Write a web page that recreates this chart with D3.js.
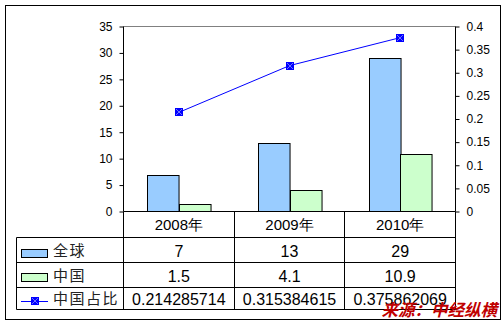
<!DOCTYPE html>
<html><head><meta charset="utf-8">
<script src="https://cdn.jsdelivr.net/npm/d3@7"></script>
<style>body{margin:0;background:#fff}svg{display:block}</style>
</head><body>
<svg id="c" width="504" height="323"></svg>
<script>
const categories = ["2008年", "2009年", "2010年"];
const globalValues = [7, 13, 29];
const chinaValues = [1.5, 4.1, 10.9];
const shareValues = [0.214285714, 0.315384615, 0.375862069];
const shareLabels = ["0.214285714", "0.315384615", "0.375862069"];
const seriesNames = ["全球", "中国", "中国占比"];
const leftTicks = [0, 5, 10, 15, 20, 25, 30, 35];
const rightTicks = [0, 0.05, 0.1, 0.15, 0.2, 0.25, 0.3, 0.35, 0.4];

const svg = d3.select("#c");
const L = 123.5, R = 455.5, T = 26.5, B = 211.5;
const num = "'Liberation Sans', Arial, sans-serif";
const cjk = "'Noto Sans CJK SC', sans-serif";

// outer border
svg.append("rect").attr("x", 5.5).attr("y", 5.5).attr("width", 495).attr("height", 314)
  .attr("fill", "#fff").attr("stroke", "#000");

const x = d3.scaleBand().domain(categories).range([L, R]).padding(0);
const yL = d3.scaleLinear().domain([0, 35]).range([B, T]);
const yR = d3.scaleLinear().domain([0, 0.4]).range([B, T]);
const bw = x.bandwidth() * 0.285;

// plot top border
svg.append("line").attr("x1", L).attr("x2", R).attr("y1", T).attr("y2", T).attr("stroke", "#808080");

// bars
svg.selectAll(".g").data(globalValues).enter().append("rect")
  .attr("x", (d, i) => Math.round(x(categories[i]) + x.bandwidth() / 2 - bw) + 0.5)
  .attr("y", d => Math.round(yL(d)) + 0.5)
  .attr("width", bw).attr("height", d => B - Math.round(yL(d)) - 0.5)
  .attr("fill", "#99CCFF").attr("stroke", "#000");
svg.selectAll(".c").data(chinaValues).enter().append("rect")
  .attr("x", (d, i) => Math.round(x(categories[i]) + x.bandwidth() / 2) + 0.5)
  .attr("y", d => Math.round(yL(d)) + 0.5)
  .attr("width", bw).attr("height", d => B - Math.round(yL(d)) - 0.5)
  .attr("fill", "#CCFFCC").attr("stroke", "#000");

// axes
const ax = svg.append("g").attr("transform", `translate(${L},0)`)
  .call(d3.axisLeft(yL).tickValues(leftTicks).tickSize(4).tickPadding(7).tickFormat(d3.format("d")));
ax.select(".domain").attr("d", `M0,${T}V${B}`);
const axR = svg.append("g").attr("transform", `translate(${R},0)`)
  .call(d3.axisRight(yR).tickValues(rightTicks).tickSize(4).tickPadding(7).tickFormat(d => d === 0 ? "0" : String(+d.toFixed(2))));
axR.select(".domain").attr("d", `M0,${T}V${B}`);
svg.selectAll(".tick text").attr("font-family", num).attr("font-size", 12).attr("fill", "#000");
svg.selectAll(".domain, .tick line").attr("stroke", "#000");

// x axis baseline
svg.append("line").attr("x1", L).attr("x2", R).attr("y1", B).attr("y2", B).attr("stroke", "#000");

// line series
const line = d3.line().x((d, i) => x(categories[i]) + x.bandwidth() / 2).y(d => yR(d));
svg.append("path").datum(shareValues).attr("d", line).attr("fill", "none").attr("stroke", "#0000FF").attr("stroke-width", 1);
const mk = svg.selectAll(".mk").data(shareValues).enter().append("g")
  .attr("transform", (d, i) => `translate(${Math.round(x(categories[i]) + x.bandwidth() / 2)},${Math.round(yR(d))})`);
function marker(g) {
  g.append("rect").attr("x", -4).attr("y", -4).attr("width", 8).attr("height", 8).attr("fill", "#0000FF");
  g.append("path").attr("d", "M-3,-3L3,3M3,-3L-3,3").attr("stroke", "#6F6FFF").attr("stroke-width", 1);
}
mk.each(function () { marker(d3.select(this)); });

// data table
const TL = 16.5;
const rows = [237.5, 262.5, 287.5, 309.5];
const colEdges = [L].concat(categories.map(c => x(c) + x.bandwidth()));
colEdges.forEach(cx => {
  svg.append("line").attr("x1", Math.round(cx - 0.5) + 0.5).attr("x2", Math.round(cx - 0.5) + 0.5)
    .attr("y1", B).attr("y2", rows[3]).attr("stroke", "#000");
});
rows.forEach(ry => svg.append("line").attr("x1", TL).attr("x2", R).attr("y1", ry).attr("y2", ry).attr("stroke", "#000"));
svg.append("line").attr("x1", TL).attr("x2", TL).attr("y1", rows[0]).attr("y2", rows[3]).attr("stroke", "#000");

categories.forEach((c, i) => {
  svg.append("text").attr("x", x(c) + x.bandwidth() / 2).attr("y", 230).attr("text-anchor", "middle")
    .attr("font-family", num).attr("font-size", 15).text(c);
});
const tableVals = [globalValues.map(String), chinaValues.map(String), shareLabels];
const baselines = [257, 282, 305];
tableVals.forEach((vals, r) => {
  vals.forEach((v, i) => {
    svg.append("text").attr("x", x(categories[i]) + x.bandwidth() / 2).attr("y", baselines[r])
      .attr("text-anchor", "middle").attr("font-family", num).attr("font-size", 16).text(v);
  });
  svg.append("text").attr("x", 53).attr("y", baselines[r] - 1).attr("font-family", cjk).attr("font-size", 15)
    .attr("letter-spacing", 1.5).attr("fill", "#222").text(seriesNames[r]);
});
// legend keys
svg.append("rect").attr("x", 21.5).attr("y", 249.5).attr("width", 26).attr("height", 8).attr("fill", "#99CCFF").attr("stroke", "#000");
svg.append("rect").attr("x", 21.5).attr("y", 273.5).attr("width", 26).attr("height", 8).attr("fill", "#CCFFCC").attr("stroke", "#000");
svg.append("line").attr("x1", 21).attr("x2", 48).attr("y1", 301.5).attr("y2", 301.5).attr("stroke", "#0000FF");
marker(svg.append("g").attr("transform", "translate(35,301)"));

// watermark
svg.append("text").attr("x", 497).attr("y", 316).attr("text-anchor", "end")
  .attr("font-family", cjk).attr("font-size", 16.5).attr("font-weight", "bold").attr("font-style", "italic")
  .attr("fill", "#C00000").text("来源：中经纵横");
</script>
</body></html>
